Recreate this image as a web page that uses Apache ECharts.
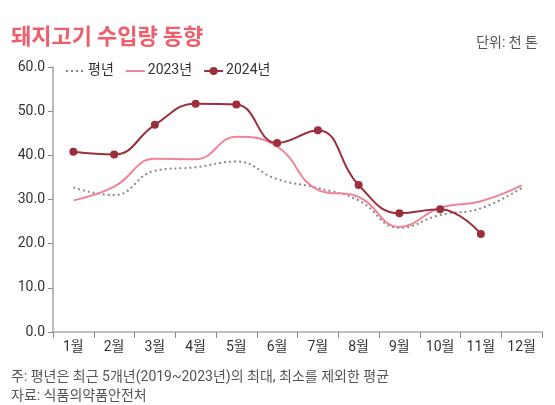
<!DOCTYPE html>
<html><head><meta charset="utf-8">
<script src="https://cdn.jsdelivr.net/npm/echarts@6/dist/echarts.min.js"></script>
<style>html,body{margin:0;padding:0;background:#fff}#c{width:555px;height:405px}</style>
</head><body><div id="c"></div>
<script>
const months = ['1월','2월','3월','4월','5월','6월','7월','8월','9월','10월','11월','12월'];
const avgValues = [32.7, 31.0, 36.5, 37.3, 38.6, 34.6, 32.6, 29.8, 23.6, 26.5, 28.0, 32.6];
const y2023Values = [29.8, 32.9, 39.2, 39.1, 44.2, 42.0, 32.2, 30.6, 23.8, 28.1, 29.6, 33.2];
const y2024Values = [40.8, 40.2, 46.9, 51.7, 51.5, 42.8, 45.7, 33.3, 26.9, 27.8, 22.2];
const yTicks = [0, 10, 20, 30, 40, 50, 60];
const seriesNames = ['평년', '2023년', '2024년'];

const font = "Roboto, 'Noto Sans CJK KR', 'Noto Sans', sans-serif";
const titleFont = "'Noto Sans CJK KR', 'Noto Sans', sans-serif";
const hiddenSymbol = {color: 'rgba(0,0,0,0)', borderWidth: 0};
const chart = echarts.init(document.getElementById('c'), null, {renderer: 'canvas'});
chart.setOption({
  animation: false,
  textStyle: {fontFamily: font},
  title: [
    {text: '돼지고기 수입량 동향', left: 6, top: 20,
     textStyle: {color: '#ee5f6b', fontSize: 22, fontWeight: 'bold', fontFamily: titleFont}},
    {text: '단위: 천 톤', right: 12, top: 32,
     textStyle: {color: '#555', fontSize: 14, fontWeight: 'normal', fontFamily: font}},
    {text: '주: 평년은 최근 5개년(2019~2023년)의 최대, 최소를 제외한 평균', left: 6, top: 366,
     textStyle: {color: '#555', fontSize: 14, fontWeight: 'normal', fontFamily: font}},
    {text: '자료: 식품의약품안전처', left: 6, top: 385,
     textStyle: {color: '#555', fontSize: 14, fontWeight: 'normal', fontFamily: font}}
  ],
  legend: {
    left: 60, top: 59, itemGap: 11, itemWidth: 19, itemHeight: 10,
    textStyle: {color: '#333', fontSize: 14, fontFamily: font, padding: [0,0,0,-2]},
    data: [
      {name: seriesNames[0], itemStyle: hiddenSymbol},
      {name: seriesNames[1], itemStyle: hiddenSymbol},
      {name: seriesNames[2]}
    ]
  },
  grid: {left: 53, right: 13, top: 67, bottom: 73},
  xAxis: {
    type: 'category', data: months, boundaryGap: true,
    axisLine: {lineStyle: {color: '#aaa', width: 1.5}},
    axisTick: {show: true, length: 6, lineStyle: {color: '#888'}},
    axisLabel: {color: '#333', fontSize: 14, margin: 9, fontFamily: font}
  },
  yAxis: {
    type: 'value', min: yTicks[0], max: yTicks[yTicks.length-1], interval: 10,
    axisLine: {show: true, lineStyle: {color: '#bbb', width: 2}},
    axisTick: {show: true, length: 5, lineStyle: {color: '#888'}},
    splitLine: {show: false},
    axisLabel: {color: '#333', fontSize: 14, margin: 8, fontFamily: font,
      formatter: v => v.toFixed(1)}
  },
  series: [
    {name: seriesNames[0], type: 'line', data: avgValues, smooth: 0.45,
     symbol: 'none', lineStyle: {color: '#888', width: 2, type: [2, 3]}, itemStyle: {color: '#888'}},
    {name: seriesNames[1], type: 'line', data: y2023Values, smooth: 0.45,
     symbol: 'none', lineStyle: {color: '#f08496', width: 2}, itemStyle: {color: '#f08496'}},
    {name: seriesNames[2], type: 'line', data: y2024Values, smooth: 0.45,
     symbol: 'circle', symbolSize: 8, lineStyle: {color: '#9c2f3c', width: 2}, itemStyle: {color: '#9c2f3c'}}
  ]
});
</script></body></html>
